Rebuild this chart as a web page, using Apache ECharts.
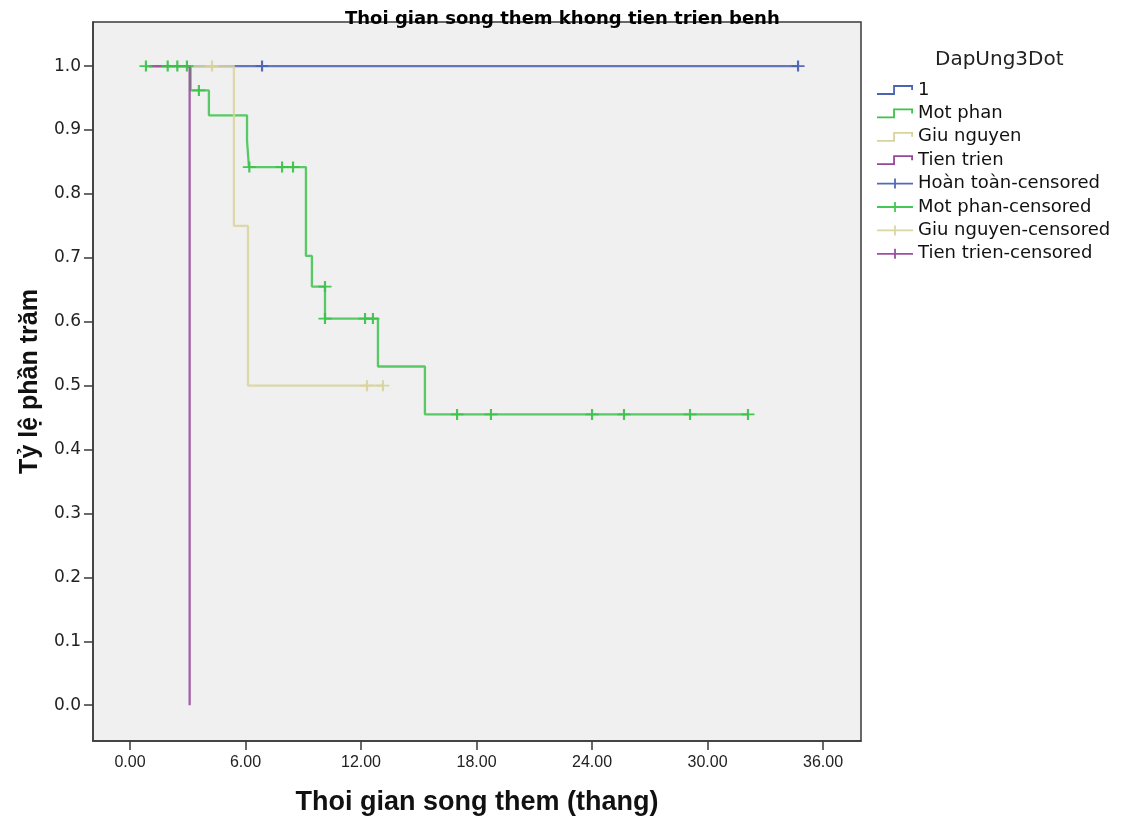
<!DOCTYPE html>
<html>
<head>
<meta charset="utf-8">
<title>Thoi gian song them khong tien trien benh</title>
<script src="https://cdn.jsdelivr.net/npm/echarts@6/dist/echarts.min.js"></script>
<style>
  html, body { margin: 0; padding: 0; background: #ffffff; }
  #chart { width: 1130px; height: 821px; }
</style>
</head>
<body>
<div id="chart"></div>
<script>
// Kaplan-Meier curves: time (months) where the survival level changes, and the level after it
const hoanToanT = [0.8, 34.7];
const hoanToanS = [1.0, 1.0];
const motPhanT = [0.83, 3.15, 4.10, 6.08, 6.18, 9.14, 9.45, 10.13, 12.88, 15.32, 32.1];
const motPhanS = [1.0, 0.962, 0.923, 0.883, 0.842, 0.703, 0.655, 0.605, 0.530, 0.455, 0.455];
const giuNguyenT = [0.8, 5.40, 6.13, 13.14];
const giuNguyenS = [1.0, 0.75, 0.50, 0.50];
const tienTrienT = [1.0, 3.10];
const tienTrienS = [1.0, 0.0];

// Censored observations (time, survival level at that time)
const hoanToanCensT = [6.86, 34.7];
const hoanToanCensS = [1.0, 1.0];
const motPhanCensT = [0.83, 1.96, 2.46, 2.96, 3.58, 6.2, 7.9, 8.47, 10.13, 10.13, 12.21, 12.62, 16.99, 18.75, 24.0, 25.66, 29.09, 32.1];
const motPhanCensS = [1.0, 1.0, 1.0, 1.0, 0.962, 0.842, 0.842, 0.842, 0.655, 0.605, 0.605, 0.605, 0.455, 0.455, 0.455, 0.455, 0.455, 0.455];
const giuNguyenCensT = [4.26, 12.31, 13.14];
const giuNguyenCensS = [1.0, 0.50, 0.50];
const tienTrienCensT = [];
const tienTrienCensS = [];

// Group names and axis ticks
const groupNames = ['1', 'Mot phan', 'Giu nguyen', 'Tien trien'];
const censNames = ['Hoàn toàn-censored', 'Mot phan-censored', 'Giu nguyen-censored', 'Tien trien-censored'];
const xTicks = [0, 6, 12, 18, 24, 30, 36];
const yTicks = [0.0, 0.1, 0.2, 0.3, 0.4, 0.5, 0.6, 0.7, 0.8, 0.9, 1.0];

const colors = ['#4a63b3', '#3cc34c', '#d8d39d', '#96479a'];

const pairs = (t, s) => t.map((v, i) => [v, s[i]]);
const curves = [
  pairs(hoanToanT, hoanToanS),
  pairs(motPhanT, motPhanS),
  pairs(giuNguyenT, giuNguyenS),
  pairs(tienTrienT, tienTrienS)
];
const censored = [
  pairs(hoanToanCensT, hoanToanCensS),
  pairs(motPhanCensT, motPhanCensS),
  pairs(giuNguyenCensT, giuNguyenCensS),
  pairs(tienTrienCensT, tienTrienCensS)
];

// Legend glyphs: a step line and a plus sign
const stepIcon = 'path://M0,8.1 L16.1,8.1 L16.1,0.1 L35.9,0.1 L35.9,5 L34.1,5 L34.1,1.9 L17.9,1.9 L17.9,9.9 L0,9.9 Z';
const crossIcon = 'path://M0,4.1 L36,4.1 L36,5.9 L0,5.9 Z M17.1,0 L18.9,0 L18.9,10 L17.1,10 Z';
const censorMark = 'path://M0,5 L12,5 L12,7 L0,7 Z M5,0 L7,0 L7,12 L5,12 Z';

const series = [];
groupNames.forEach((name, i) => {
  series.push({
    name: name,
    type: 'line',
    step: 'end',
    data: curves[i],
    symbol: 'none',
    color: colors[i],
    lineStyle: { color: colors[i], width: 2.3, opacity: 0.85 },
    z: 2 + i,
    silent: true,
    animation: false
  });
});
censNames.forEach((name, i) => {
  series.push({
    name: name,
    type: 'scatter',
    data: censored[i],
    symbol: censorMark,
    symbolSize: [13, 11],
    color: colors[i],
    itemStyle: { color: colors[i], opacity: 0.95 },
    z: 10,
    silent: true,
    animation: false
  });
});

const axisColor = '#3a3a3a';

const chart = echarts.init(document.getElementById('chart'), null, { renderer: 'canvas' });
chart.setOption({
  backgroundColor: '#ffffff',
  animation: false,
  title: [
    {
      text: 'Thoi gian song them khong tien trien benh',
      left: 340,
      top: 5,
      textStyle: { fontFamily: 'DejaVu Sans', fontWeight: 'bold', fontSize: 18, color: '#000' }
    },
    {
      text: 'DapUng3Dot',
      left: 930,
      top: 45,
      textStyle: { fontFamily: 'DejaVu Sans', fontWeight: 'normal', fontSize: 20, color: '#222' }
    }
  ],
  legend: {
    orient: 'vertical',
    left: 877,
    top: 81,
    padding: 0,
    itemWidth: 36,
    itemHeight: 10,
    itemGap: 5.4,
    selectedMode: false,
    textStyle: { fontFamily: 'DejaVu Sans', fontSize: 18, color: '#111', lineHeight: 18 },
    data: groupNames.map(n => ({ name: n, icon: stepIcon }))
      .concat(censNames.map(n => ({ name: n, icon: crossIcon })))
  },
  grid: {
    left: 93,
    right: 269,
    top: 22,
    bottom: 80,
    show: true,
    backgroundColor: '#f0f0f0',
    borderColor: axisColor,
    borderWidth: 1.5,
    containLabel: false
  },
  xAxis: {
    type: 'value',
    min: -1.92,
    max: 37.97,
    name: 'Thoi gian song them (thang)',
    nameLocation: 'middle',
    nameGap: 48,
    nameTextStyle: { fontFamily: 'Liberation Sans', fontWeight: 'bold', fontSize: 27, color: '#111' },
    axisLine: { show: true, onZero: false, lineStyle: { color: axisColor, width: 1.5 } },
    axisTick: { show: true, inside: false, length: 9, customValues: xTicks, lineStyle: { color: axisColor, width: 1.5 } },
    axisLabel: {
      customValues: xTicks,
      margin: 14,
      fontFamily: 'Liberation Sans',
      fontSize: 16,
      color: '#222',
      formatter: v => v.toFixed(2)
    },
    splitLine: { show: false }
  },
  yAxis: {
    type: 'value',
    min: -0.056,
    max: 1.069,
    name: 'Tỷ lệ phần trăm',
    nameLocation: 'middle',
    nameGap: 44,
    nameRotate: 90,
    nameTextStyle: { fontFamily: 'Liberation Sans', fontWeight: 'bold', fontSize: 25, color: '#111' },
    axisLine: { show: true, onZero: false, lineStyle: { color: axisColor, width: 1.5 } },
    axisTick: { show: true, inside: false, length: 9, customValues: yTicks, lineStyle: { color: axisColor, width: 1.5 } },
    axisLabel: {
      customValues: yTicks,
      margin: 12,
      fontFamily: 'DejaVu Sans',
      fontSize: 17,
      color: '#222',
      formatter: v => v.toFixed(1)
    },
    splitLine: { show: false }
  },
  series: series
});
</script>
</body>
</html>
